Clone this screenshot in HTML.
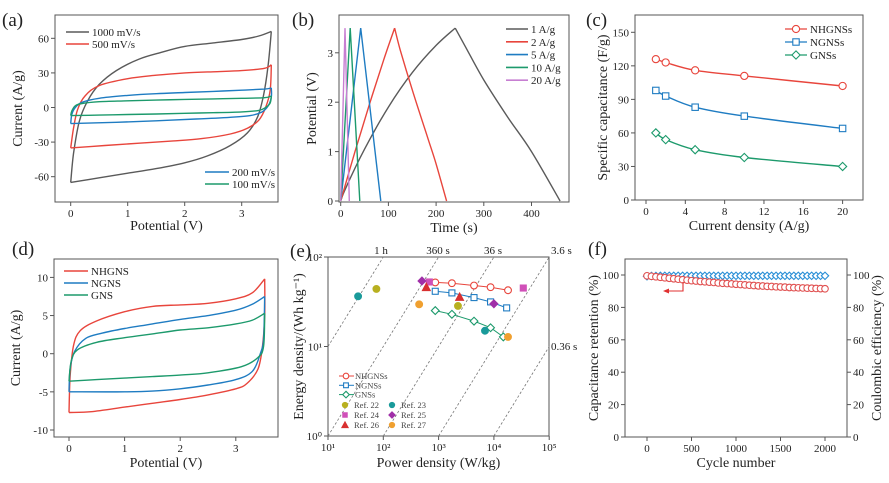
<!DOCTYPE html>
<html><head><meta charset="utf-8"><style>
html,body{margin:0;padding:0;background:#fff;width:889px;height:483px;overflow:hidden;}
svg{display:block;font-family:"Liberation Serif",serif;}
</style></head><body>
<svg id="fig" width="889" height="483" viewBox="0 0 889 483"></svg>
<script>
// ---------- DATA ----------
const cvA1000Up=[[0,-65],[0.05,-40],[0.15,-12],[0.3,6],[0.5,20],[0.8,32],[1.2,42],[1.6,48],[2,53],[2.5,56],[3,59],[3.3,62],[3.52,66]];
const cvA1000Dn=[[3.52,66],[3.46,35],[3.38,10],[3.28,-8],[3.1,-22],[2.8,-33],[2.4,-42],[2,-48],[1.5,-53],[1,-57],[0.5,-61],[0,-65]];
const cvA500Up=[[0,-35],[0.05,-18],[0.12,-2],[0.25,10],[0.5,19],[1,25],[1.5,28],[2,30],[2.5,31],[3,32],[3.4,34],[3.52,37]];
const cvA500Dn=[[3.52,37],[3.5,15],[3.42,0],[3.3,-11],[3.1,-18],[2.8,-23],[2.3,-27],[1.8,-29],[1.2,-31],[0.6,-33],[0,-35]];
const cvA200Up=[[0,-14],[0.02,-6],[0.08,0],[0.2,4.5],[0.5,8],[1,10.5],[1.5,12],[2,13],[2.5,14],[3,15],[3.4,16],[3.52,17]];
const cvA200Dn=[[3.52,17],[3.52,9],[3.46,1],[3.35,-4],[3.15,-7],[2.8,-8.5],[2.2,-10],[1.5,-11.5],[0.8,-12.8],[0,-14]];
const cvA100Up=[[0,-7],[0.02,-3],[0.08,1.5],[0.2,3.5],[0.5,5],[1,5.8],[1.5,6.4],[2,7],[2.5,7.5],[3,8],[3.4,8.5],[3.52,10]];
const cvA100Dn=[[3.52,10],[3.5,4],[3.42,0],[3.3,-2.5],[3,-3.8],[2.5,-4.5],[2,-5],[1.5,-5.6],[1,-6.1],[0.5,-6.6],[0,-7]];
const gcd1=[[0,0],[10,0.25],[50,1.05],[100,1.9],[150,2.6],[200,3.15],[240,3.5],[260,3.15],[300,2.45],[350,1.7],[400,1.0],[460,0]];
const gcd2=[[0,0],[30,1.0],[60,1.95],[90,2.85],[113,3.5],[125,3.05],[150,2.25],[180,1.35],[200,0.75],[222,0]];
const gcd5=[[0,0],[42,3.5],[84,0]];
const gcd10=[[0,0],[20,3.5],[40,0]];
const gcd20=[[0,0],[9,3.5],[18,0]];
const currentDensity=[1,2,5,10,20];
const capNHGNS=[126,123,116,111,102];
const capNGNS=[98,93,83,75,64];
const capGNS=[60,54,45,38,30];
const cvNHUp=[[0,-7.7],[0.02,-3],[0.08,1],[0.2,3],[0.5,4.3],[1,5.5],[1.5,6.2],[2,6.4],[2.5,6.6],[3,7.2],[3.3,8],[3.52,9.8]];
const cvNHDn=[[3.52,9.8],[3.52,5],[3.48,1],[3.4,-2],[3.2,-3.9],[3,-4.6],[2.5,-5.4],[2,-6],[1.5,-6.5],[1,-7],[0.4,-7.6],[0,-7.7]];
const cvNUp=[[0,-5],[0.02,-2],[0.1,0.3],[0.3,2],[0.6,2.7],[1,3.3],[1.5,3.9],[2,4.5],[2.5,5],[3,5.7],[3.3,6.5],[3.52,7.5]];
const cvNDn=[[3.52,7.5],[3.5,2],[3.44,0],[3.3,-2.3],[3,-3.4],[2.5,-4.1],[2,-4.6],[1.5,-4.9],[1,-5],[0,-5]];
const cvGUp=[[0,-3.6],[0.04,-1],[0.15,0.5],[0.5,1.5],[1,2.1],[1.5,2.6],[2,3.1],[2.5,3.4],[3,3.9],[3.3,4.4],[3.52,5.3]];
const cvGDn=[[3.52,5.3],[3.5,1],[3.4,-0.5],[3.1,-1.7],[2.5,-2.5],[2,-2.8],[1.5,-3],[1,-3.2],[0.5,-3.4],[0,-3.6]];
const powNHGNS=[870,1740,4370,8700,18000];
const engNHGNS=[52,51,48,46,42.5];
const powNGNS=[870,1740,4370,8700,17000];
const engNGNS=[41.4,39.7,35.2,31.5,27];
const powGNS=[870,1740,4370,8700,14800];
const engGNS=[25.2,22.9,19.2,16.2,12.8];
const refNames=["Ref. 22","Ref. 23","Ref. 24","Ref. 25","Ref. 26","Ref. 27"];
const refPow=[[75,2240],[35,6900],[680,34000],[500,10000],[600,2400],[445,18000]];
const refEng=[[44,28.4],[36.4,15],[52.6,45],[54,30],[46,35.8],[29.6,12.8]];
const timeLabels=["1 h","360 s","36 s","3.6 s","0.36 s"];
const timeHours=[1,0.1,0.01,0.001,0.0001];
const cycles=[0,50,100,150,200,250,300,350,400,450,500,550,600,650,700,750,800,850,900,950,1000,1050,1100,1150,1200,1250,1300,1350,1400,1450,1500,1550,1600,1650,1700,1750,1800,1850,1900,1950,2000];
const retention=[99.5,99.2,98.9,98.6,98.3,98.0,97.7,97.4,97.1,96.8,96.5,96.3,96.0,95.8,95.6,95.4,95.1,94.9,94.7,94.5,94.3,94.1,93.9,93.7,93.5,93.3,93.2,93.0,92.9,92.7,92.6,92.5,92.3,92.2,92.1,92.0,91.9,91.8,91.7,91.6,91.5];
const efficiency=[99.2,99.4,99.4,99.5,99.5,99.5,99.5,99.5,99.5,99.5,99.5,99.5,99.5,99.5,99.5,99.5,99.5,99.5,99.5,99.5,99.5,99.5,99.5,99.5,99.5,99.5,99.5,99.5,99.5,99.5,99.5,99.5,99.5,99.5,99.5,99.5,99.5,99.5,99.5,99.5,99.5];

// ---------- HELPERS ----------
const NS="http://www.w3.org/2000/svg";
const svg=document.getElementById('fig');
function mk(tag,attrs,parent){const e=document.createElementNS(NS,tag);for(const k in attrs)e.setAttribute(k,attrs[k]);(parent||svg).appendChild(e);return e;}
function txt(s,x,y,size,anchor,parent,extra){const t=mk('text',Object.assign({x:x,y:y,'font-size':size,'text-anchor':anchor||'middle',fill:'#222'},extra||{}),parent);t.textContent=s;return t;}
function smooth(pts){if(pts.length<3){return 'M'+pts.map(p=>p[0].toFixed(1)+','+p[1].toFixed(1)).join('L');}
 let d='M'+pts[0][0].toFixed(1)+','+pts[0][1].toFixed(1);
 for(let i=0;i<pts.length-1;i++){const p0=pts[Math.max(0,i-1)],p1=pts[i],p2=pts[i+1],p3=pts[Math.min(pts.length-1,i+2)];
  const c1=[p1[0]+(p2[0]-p0[0])/6,p1[1]+(p2[1]-p0[1])/6],c2=[p2[0]-(p3[0]-p1[0])/6,p2[1]-(p3[1]-p1[1])/6];
  d+='C'+c1[0].toFixed(1)+','+c1[1].toFixed(1)+' '+c2[0].toFixed(1)+','+c2[1].toFixed(1)+' '+p2[0].toFixed(1)+','+p2[1].toFixed(1);}
 return d;}
function panel(name,cfg){
 const g=mk('g',{});
 
 
 const box=mk('rect',{x:cfg.x0,y:cfg.y0,width:cfg.x1-cfg.x0,height:cfg.y1-cfg.y0,fill:'none',stroke:'#555','stroke-width':1},g);
 
 
 const xa=mk('g',{},g);
 
 
 cfg.xt.forEach(v=>{const px=cfg.sx(v);mk('line',{x1:px,x2:px,y1:cfg.y1,y2:cfg.y1+4,stroke:'#555'},xa);
  const t=txt(cfg.xl?cfg.xl(v):String(v),px,cfg.y1+15,11,'middle',xa);
  
  });
 const ya=mk('g',{},g);
 
 
 cfg.yt.forEach(v=>{const py=cfg.sy(v);mk('line',{x1:cfg.x0-4,x2:cfg.x0,y1:py,y2:py,stroke:'#555'},ya);
  const t=txt(cfg.yl?cfg.yl(v):String(v),cfg.x0-6,py+4,11,'end',ya);
  
  });
 const xt=txt(cfg.xtitle,(cfg.x0+cfg.x1)/2,cfg.xty,14,'middle',g);
 
 
 const yt=txt(cfg.ytitle,0,0,14,'middle',g,{transform:'translate('+cfg.ytx+','+((cfg.y0+cfg.y1)/2)+') rotate(-90)'});
 
 
 const pl=txt(cfg.label,cfg.lx,cfg.ly,19,'start',g);
 
 
 return g;}
function curve(g,pts,sx,sy,color,name,w){const p=mk('path',{d:smooth(pts.map(q=>[sx(q[0]),sy(q[1])])),fill:'none',stroke:color,'stroke-width':w||1.4},g);
 
 return p;}
function poly(g,pts,color,name,w){const p=mk('polyline',{points:pts.map(q=>q[0].toFixed(1)+','+q[1].toFixed(1)).join(' '),fill:'none',stroke:color,'stroke-width':w||1.3},g);
 
 return p;}
function marker(g,type,x,y,color,fill,r){r=r||3.6;let e;
 if(type==='circle')e=mk('circle',{cx:x,cy:y,r:r,fill:fill||'#fff',stroke:color,'stroke-width':1.1},g);
 else if(type==='square')e=mk('rect',{x:x-r+0.4,y:y-r+0.4,width:2*r-0.8,height:2*r-0.8,fill:fill||'#fff',stroke:color,'stroke-width':1.1},g);
 else if(type==='diamond')e=mk('polygon',{points:[x,y-r-0.5,x+r+0.5,y,x,y+r+0.5,x-r-0.5,y].join(' '),fill:fill||'#fff',stroke:color,'stroke-width':1.1},g);
 else e=mk('polygon',{points:[x,y-r-0.5,x+r+0.5,y+r,x-r-0.5,y+r].join(' '),fill:fill||'#fff',stroke:color,'stroke-width':1.1},g);
 return e;}
function legLine(g,x1,x2,y,color,label,name,w){const l=mk('line',{x1:x1,x2:x2,y1:y,y2:y,stroke:color,'stroke-width':w||1.6},g);
 const t=txt(label,x2+3,y+4,11,'start',g);
 
 
 
 }
const GRAY='#5a5a5a',RED='#e8453c',BLUE='#1f7cc2',GREEN='#1d9a6c',PURP='#c77fd2';

// ---------- (a) ----------
{const sx=v=>70.7+57*v, sy=i=>107.5-1.153*i;
 const g=panel('panel-a',{x0:55,x1:278,y0:15,y1:202,sx:sx,sy:sy,xt:[0,1,2,3],yt:[-60,-30,0,30,60],xtitle:'Potential (V)',xty:230,ytitle:'Current (A/g)',ytx:22,label:'(a)',lx:2,ly:26});
 curve(g,cvA1000Up,sx,sy,GRAY,'cv-1000-forward');curve(g,cvA1000Dn,sx,sy,GRAY,'cv-1000-reverse');
 curve(g,cvA500Up,sx,sy,RED,'cv-500-forward');curve(g,cvA500Dn,sx,sy,RED,'cv-500-reverse');
 curve(g,cvA200Up,sx,sy,BLUE,'cv-200-forward');curve(g,cvA200Dn,sx,sy,BLUE,'cv-200-reverse');
 curve(g,cvA100Up,sx,sy,GREEN,'cv-100-forward');curve(g,cvA100Dn,sx,sy,GREEN,'cv-100-reverse');
 legLine(g,66,89,32,GRAY,'1000 mV/s','legend-1000');legLine(g,66,89,44,RED,'500 mV/s','legend-500');
 legLine(g,205,229,172,BLUE,'200 mV/s','legend-200');legLine(g,205,229,184,GREEN,'100 mV/s','legend-100');}
// ---------- (b) ----------
{const sx=t=>340.7+0.477*t, sy=v=>201-49.4*v;
 const g=panel('panel-b',{x0:339,x1:569,y0:15,y1:202,sx:sx,sy:sy,xt:[0,100,200,300,400],yt:[0,1,2,3],xtitle:'Time (s)',xty:232,ytitle:'Potential (V)',ytx:316,label:'(b)',lx:292,ly:26});
 curve(g,gcd1.slice(0,7),sx,sy,GRAY,'gcd-1-charge');curve(g,gcd1.slice(6),sx,sy,GRAY,'gcd-1-discharge');
 curve(g,gcd2.slice(0,5),sx,sy,RED,'gcd-2-charge');curve(g,gcd2.slice(4),sx,sy,RED,'gcd-2-discharge');
 poly(g,gcd5.map(q=>[sx(q[0]),sy(q[1])]),BLUE,'gcd-5',1.4);
 poly(g,gcd10.map(q=>[sx(q[0]),sy(q[1])]),GREEN,'gcd-10',1.4);
 poly(g,gcd20.map(q=>[sx(q[0]),sy(q[1])]),PURP,'gcd-20',1.4);
 const lb=['1 A/g','2 A/g','5 A/g','10 A/g','20 A/g'],lc=[GRAY,RED,BLUE,GREEN,PURP];
 lb.forEach((s,i)=>legLine(g,506,528,29+12.8*i,lc[i],s,'legend-'+s.replace(/[ \/]/g,'')));}
// ---------- (c) ----------
{const sx=c=>646+9.83*c, sy=s=>200-1.118*s;
 const g=panel('panel-c',{x0:635,x1:863,y0:15,y1:200,sx:sx,sy:sy,xt:[0,4,8,12,16,20],yt:[0,30,60,90,120,150],xtitle:'Current density (A/g)',xty:230,ytitle:'Specific capacitance (F/g)',ytx:607,label:'(c)',lx:586,ly:26});
 const ser=[[capNHGNS,RED,'circle','NHGNSs'],[capNGNS,BLUE,'square','NGNSs'],[capGNS,GREEN,'diamond','GNSs']];
 ser.forEach((s,k)=>{const pts=currentDensity.map((c,i)=>[c,s[0][i]]);curve(g,pts,sx,sy,s[1],'line-'+s[3]);
  pts.forEach(p=>{const m=marker(g,s[2],sx(p[0]),sy(p[1]),s[1]);
   
   });
  const ly=29+13*k;mk('line',{x1:785,x2:807,y1:ly,y2:ly,stroke:s[1],'stroke-width':1.3},g);marker(g,s[2],796,ly,s[1]);
  const t=txt(s[3],810,ly+4,11,'start',g);
  
  });}
// ---------- (d) ----------
{const sx=v=>69+55.6*v, sy=i=>353.7-7.63*i;
 const g=panel('panel-d',{x0:54,x1:278,y0:259,y1:437,sx:sx,sy:sy,xt:[0,1,2,3],yt:[-10,-5,0,5,10],xtitle:'Potential (V)',xty:467,ytitle:'Current (A/g)',ytx:20,label:'(d)',lx:12,ly:255});
 curve(g,cvNHUp,sx,sy,RED,'cv-nhgns-forward');curve(g,cvNHDn,sx,sy,RED,'cv-nhgns-reverse');
 curve(g,cvNUp,sx,sy,BLUE,'cv-ngns-forward');curve(g,cvNDn,sx,sy,BLUE,'cv-ngns-reverse');
 curve(g,cvGUp,sx,sy,GREEN,'cv-gns-forward');curve(g,cvGDn,sx,sy,GREEN,'cv-gns-reverse');
 legLine(g,64,88,271,RED,'NHGNS','legend-nhgns');legLine(g,64,88,283,BLUE,'NGNS','legend-ngns');legLine(g,64,88,295,GREEN,'GNS','legend-gns');}
// ---------- (e) ----------
{const sx=p=>328+55.3*(Math.log10(p)-1), sy=e=>436-89.5*Math.log10(e);
 const sup={1:'¹',2:'²',3:'³',4:'⁴',5:'⁵',0:'⁰'};
 const g=panel('panel-e',{x0:328,x1:549,y0:257,y1:436,sx:sx,sy:sy,xt:[10,100,1000,10000,100000],yt:[1,10,100],xl:v=>'10'+sup[Math.round(Math.log10(v))],yl:v=>'10'+sup[Math.round(Math.log10(v))],xtitle:'Power density (W/kg)',xty:467,ytitle:'Energy density/(Wh kg⁻¹)',ytx:303,label:'(e)',lx:290,ly:257});
 timeHours.forEach((h,i)=>{const lh=Math.log10(h);
  const a=Math.max(1,0-lh), b=Math.min(5,2-lh);
  if(b<=a)return;
  const l=mk('line',{x1:sx(Math.pow(10,a)),y1:sy(Math.pow(10,a+lh)),x2:sx(Math.pow(10,b)),y2:sy(Math.pow(10,b+lh)),stroke:'#777','stroke-width':0.8,'stroke-dasharray':'2.5,2'},g);
  
  });
 const tl=[[381,254,'middle'],[438,254,'middle'],[493,254,'middle'],[551,254,'start'],[551,350,'start']];
 timeLabels.forEach((s,i)=>{const t=txt(s,tl[i][0],tl[i][1],11,tl[i][2],g);
  
  });
 const ser=[[powNHGNS,engNHGNS,RED,'circle','NHGNSs'],[powNGNS,engNGNS,BLUE,'square','NGNSs'],[powGNS,engGNS,GREEN,'diamond','GNSs']];
 ser.forEach((s,k)=>{const pts=s[0].map((p,i)=>[sx(p),sy(s[1][i])]);poly(g,pts,s[2],'ragone-'+s[4],1);
  pts.forEach(p=>{const m=marker(g,s[3],p[0],p[1],s[2],'#fff',3.4);
   
   });
  const ly=376+9.3*k;mk('line',{x1:339,x2:354,y1:ly,y2:ly,stroke:s[2],'stroke-width':1},g);marker(g,s[3],346,ly,s[2],'#fff',2.8);
  const t=txt(s[4],355,ly+3,8.5,'start',g,{fill:'#444'});
  
  });
 const rc=['#b8b020','#1a9a9a','#d050b8','#a02fa8','#d83030','#f0a030'],rt=['circle','circle','square','diamond','triangle','circle'];
 refNames.forEach((n,i)=>{refPow[i].forEach((p,j)=>{const m=marker(g,rt[i],sx(p),sy(refEng[i][j]),rc[i],rc[i],3.4);
   
   });
  const cx=i%2===0?345:392, cy=405+10*Math.floor(i/2);
  marker(g,rt[i],cx,cy,rc[i],rc[i],2.6);
  const t=txt(n,cx+9,cy+3,8.5,'start',g,{fill:'#444'});
  
  });}
// ---------- (f) ----------
{const sx=n=>647+0.089*n, sy=r=>437-1.62*r;
 const g=panel('panel-f',{x0:625,x1:847,y0:259,y1:437,sx:sx,sy:sy,xt:[0,500,1000,1500,2000],yt:[0,20,40,60,80,100],xtitle:'Cycle number',xty:467,ytitle:'Capacitance retention (%)',ytx:598,label:'(f)',lx:588,ly:255});
 [0,20,40,60,80,100].forEach(v=>{const py=sy(v);mk('line',{x1:847,x2:851,y1:py,y2:py,stroke:'#555'},g);
  const t=txt(String(v),853,py+4,11,'start',g);
  
  });
 const yt=txt('Coulombic efficiency (%)',0,0,14,'middle',g,{transform:'translate(881,348) rotate(-90)'});
 
 
 cycles.forEach((c,i)=>{const m=marker(g,'diamond',sx(c),sy(efficiency[i]),'#2a8fd6','#fff',3.2);
  
  });
 cycles.forEach((c,i)=>{const m=marker(g,'circle',sx(c),sy(retention[i]),'#e05050','#fff',3.3);
  
  });
 const ar=mk('path',{d:'M683,282 L683,291 L667,291',fill:'none',stroke:'#e03030','stroke-width':1.1},g);
 
 
 mk('polygon',{points:'663,291 669,288.5 669,293.5',fill:'#e03030'},g);}
</script>
</body></html>
